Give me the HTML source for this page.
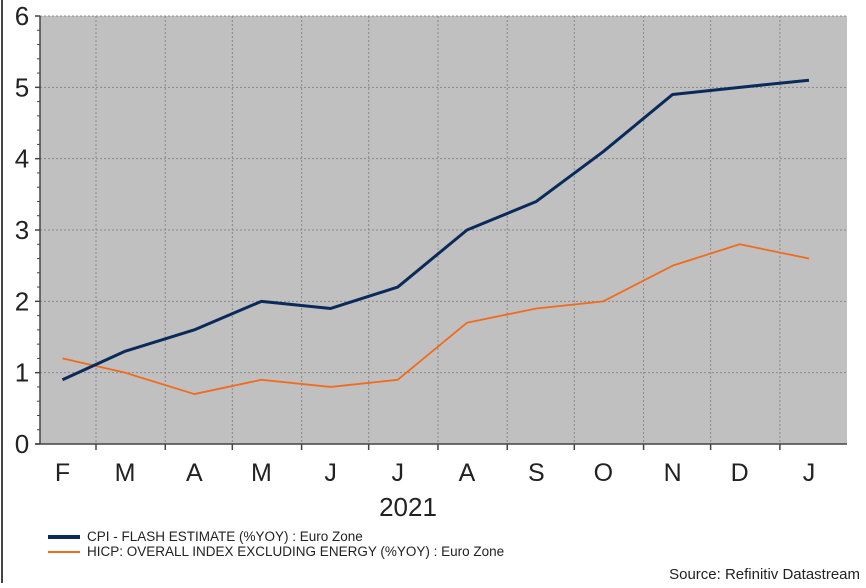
<!DOCTYPE html>
<html><head><meta charset="utf-8"><style>
body{margin:0;background:#fff;font-family:"Liberation Sans",sans-serif}
svg text{font-family:"Liberation Sans",sans-serif}
</style></head><body>
<svg id="c" width="866" height="583">
<line x1="2" y1="0" x2="2" y2="583" stroke="#444" stroke-width="2"/>
<rect x="40" y="16" width="807" height="428" fill="#c0c0c0"/>
<g id="grid"></g><g id="axes"></g><g id="series"></g>
<text x="408" y="516" font-size="26" text-anchor="middle" fill="#222">2021</text>
<line x1="48" y1="537" x2="80" y2="537" stroke="#0a2a5a" stroke-width="4"/>
<text x="87" y="541" font-size="13.5" fill="#222">CPI - FLASH ESTIMATE (%YOY) : Euro Zone</text>
<line x1="48" y1="552" x2="80" y2="552" stroke="#f26b1d" stroke-width="2"/>
<text x="87" y="556" font-size="13.5" fill="#222">HICP: OVERALL INDEX EXCLUDING ENERGY (%YOY) : Euro Zone</text>
<text x="860" y="579" font-size="15" text-anchor="end" fill="#222">Source: Refinitiv Datastream</text>
</svg>
<script>
const months=["F","M","A","M","J","J","A","S","O","N","D","J"];
const monthDays=[28,31,30,31,30,31,31,30,31,30,31,31];
const cpi=[0.9,1.3,1.6,2.0,1.9,2.2,3.0,3.4,4.1,4.9,5.0,5.1];
const hicp=[1.2,1.0,0.7,0.9,0.8,0.9,1.7,1.9,2.0,2.5,2.8,2.6];
const yTicks=[0,1,2,3,4,5,6];
const NS="http://www.w3.org/2000/svg";
const X0=40,X1=847,Y0=444,Y1=16,startDay=3,pxPerDay=2.235;
function x(day){return 96+(day-28)*pxPerDay;}
function y(v){return Y0-(v-0)/(6-0)*(Y0-Y1);}
function mk(tag,attrs,parent){const e=document.createElementNS(NS,tag);for(const k in attrs)e.setAttribute(k,attrs[k]);parent.appendChild(e);return e;}
const grid=document.getElementById('grid'),axes=document.getElementById('axes'),ser=document.getElementById('series');
let cum=[0];for(const d of monthDays)cum.push(cum[cum.length-1]+d);
for(let i=1;i<cum.length;i++){const gx=x(cum[i]);if(gx>X1)continue;
 const l=mk('line',{x1:gx,x2:gx,y1:Y1,y2:Y0,stroke:'#888','stroke-dasharray':'2,2','stroke-width':1},grid);
 
 
 const t=mk('line',{x1:gx,x2:gx,y1:Y0,y2:Y0+6,stroke:'#444','stroke-width':1.5},axes);
 
 }
const mids=months.map((m,i)=>cum[i]+13);
months.forEach((m,i)=>{const t=mk('text',{x:x(mids[i]),y:481,'font-size':25,'text-anchor':'middle',fill:'#222'},axes);t.textContent=m;
 
 });
yTicks.forEach(v=>{const gy=y(v);
 if(v>0){const l=mk('line',{x1:X0,x2:X1,y1:gy,y2:gy,stroke:'#888','stroke-dasharray':'2,2'},grid);
 
 }
 const t=mk('line',{x1:X0-5,x2:X0,y1:gy,y2:gy,stroke:'#444','stroke-width':1.5},axes);
 
 
 const lb=mk('text',{x:22,y:gy+9,'font-size':26,'text-anchor':'middle',fill:'#222'},axes);lb.textContent=v;
 
 
 if(v<6)for(let k=1;k<5;k++){const my=y(v+k*0.2);const m=mk('line',{x1:X0-3,x2:X0,y1:my,y2:my,stroke:'#444'},axes);
 
 }});
const ax=mk('line',{x1:X0,x2:X0,y1:Y1,y2:Y0,stroke:'#444','stroke-width':1.5},axes);


const bx=mk('line',{x1:X0-5,x2:X1,y1:Y0,y2:Y0,stroke:'#444','stroke-width':1.5},axes);


function line(vals,color,w,name){const p=mk('polyline',{points:vals.map((v,i)=>x(mids[i])+','+y(v)).join(' '),fill:'none',stroke:color,'stroke-width':w,'stroke-linejoin':'round'},ser);
 
 }
line(hicp,'#f26b1d',1.8,'hicp-line');
line(cpi,'#0a2a5a',3,'cpi-line');
</script>
</body></html>
